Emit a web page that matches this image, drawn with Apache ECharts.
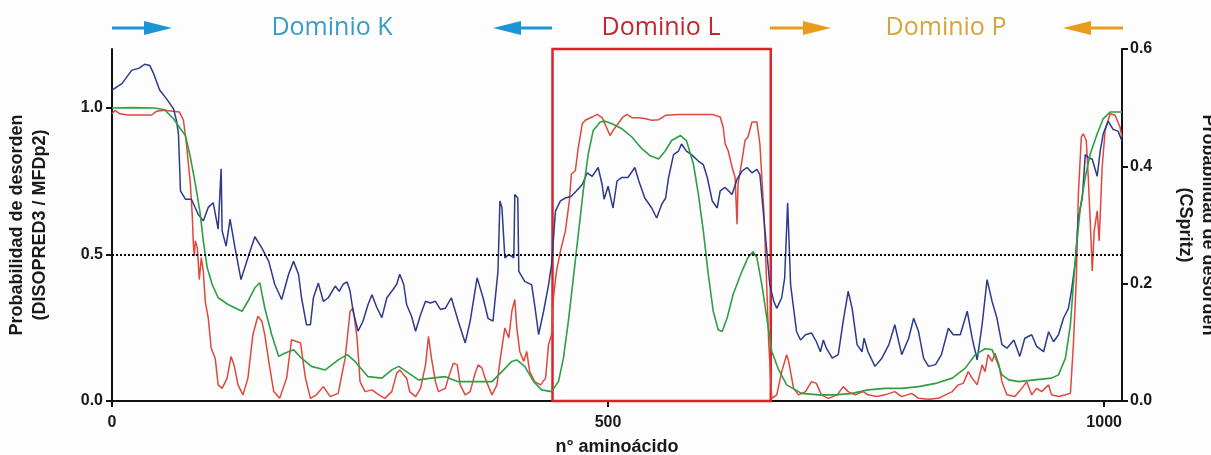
<!DOCTYPE html>
<html>
<head>
<meta charset="utf-8">
<script src="https://cdn.jsdelivr.net/npm/echarts@6/dist/echarts.min.js"></script>
<style>
  html, body { margin: 0; padding: 0; background: #fdfdfd; }
  #main { width: 1211px; height: 455px; }
</style>
</head>
<body>
<div id="main"></div>
<script>
// CSpritz (eje derecho)
var cspritzX = [0, 10, 20, 27, 33, 38, 42, 48, 55, 62, 65, 67, 69, 74, 80, 87, 92, 97, 102, 107, 110, 111, 115, 119, 124, 130, 137, 144, 151, 158, 164, 171, 178, 183, 188, 191, 196, 200, 203, 208, 213, 218, 225, 229, 233, 237, 240, 243, 248, 253, 258, 262, 267, 272, 277, 282, 287, 290, 294, 297, 302, 306, 311, 316, 321, 326, 331, 336, 342, 349, 356, 361, 368, 374, 379, 384, 389, 391, 393, 396, 400, 405, 406, 409, 410, 416, 423, 426, 430, 435, 440, 443, 447, 452, 457, 463, 468, 474, 479, 484, 490, 494, 496, 500, 505, 509, 514, 520, 527, 531, 537, 544, 549, 554, 558, 561, 566, 571, 574, 579, 584, 591, 596, 600, 605, 610, 613, 618, 625, 630, 635, 640, 645, 650, 653, 657, 660, 663, 667, 670, 675, 678, 681, 684, 687, 690, 694, 699, 705, 710, 714, 717, 720, 726, 732, 737, 742, 746, 751, 756, 758, 762, 769, 776, 783, 789, 796, 803, 808, 813, 818, 823, 830, 836, 843, 848, 855, 862, 867, 872, 877, 882, 887, 892, 897, 902, 909, 915, 920, 927, 932, 939, 944, 949, 954, 959, 964, 967, 971, 974, 978, 981, 984, 988, 993, 996, 999, 1004, 1009, 1014, 1018];
var cspritzY = [0.53, 0.541, 0.564, 0.567, 0.574, 0.572, 0.558, 0.53, 0.515, 0.498, 0.478, 0.455, 0.358, 0.344, 0.344, 0.318, 0.307, 0.33, 0.338, 0.293, 0.396, 0.29, 0.264, 0.31, 0.261, 0.207, 0.244, 0.28, 0.261, 0.238, 0.199, 0.173, 0.216, 0.238, 0.216, 0.176, 0.13, 0.13, 0.176, 0.201, 0.17, 0.176, 0.196, 0.187, 0.199, 0.203, 0.187, 0.153, 0.119, 0.136, 0.164, 0.181, 0.159, 0.142, 0.176, 0.187, 0.199, 0.216, 0.199, 0.164, 0.144, 0.119, 0.147, 0.17, 0.167, 0.17, 0.156, 0.158, 0.176, 0.136, 0.099, 0.136, 0.21, 0.176, 0.141, 0.136, 0.221, 0.341, 0.33, 0.244, 0.25, 0.244, 0.352, 0.346, 0.221, 0.204, 0.198, 0.164, 0.113, 0.153, 0.198, 0.232, 0.324, 0.341, 0.346, 0.349, 0.358, 0.369, 0.389, 0.383, 0.398, 0.369, 0.344, 0.366, 0.329, 0.375, 0.381, 0.381, 0.398, 0.375, 0.346, 0.329, 0.312, 0.335, 0.346, 0.381, 0.42, 0.426, 0.438, 0.426, 0.42, 0.409, 0.403, 0.381, 0.341, 0.329, 0.358, 0.364, 0.352, 0.378, 0.392, 0.398, 0.389, 0.395, 0.386, 0.312, 0.255, 0.198, 0.17, 0.158, 0.176, 0.21, 0.338, 0.198, 0.158, 0.118, 0.104, 0.113, 0.116, 0.101, 0.084, 0.104, 0.09, 0.073, 0.079, 0.136, 0.187, 0.158, 0.096, 0.084, 0.107, 0.084, 0.059, 0.073, 0.096, 0.13, 0.079, 0.107, 0.141, 0.118, 0.073, 0.059, 0.062, 0.079, 0.124, 0.113, 0.113, 0.153, 0.107, 0.07, 0.13, 0.207, 0.17, 0.141, 0.096, 0.09, 0.104, 0.076, 0.107, 0.113, 0.093, 0.084, 0.118, 0.101, 0.113, 0.141, 0.158, 0.187, 0.238, 0.312, 0.346, 0.42, 0.415, 0.412, 0.383, 0.426, 0.455, 0.477, 0.463, 0.46, 0.443];

// DISOPRED3 (eje izquierdo)
var disopredX = [0, 3, 8, 16, 27, 40, 45, 53, 68, 72, 75, 79, 81, 82, 83, 84, 86, 88, 90, 92, 94, 97, 100, 104, 107, 111, 116, 120, 123, 127, 132, 137, 142, 147, 151, 154, 158, 163, 169, 176, 181, 186, 190, 195, 200, 206, 213, 220, 228, 235, 240, 243, 247, 250, 255, 262, 269, 275, 282, 287, 290, 294, 297, 300, 306, 311, 316, 319, 322, 326, 329, 336, 339, 344, 348, 351, 356, 361, 366, 369, 373, 376, 383, 388, 391, 396, 400, 403, 406, 408, 411, 415, 418, 421, 426, 432, 437, 440, 443, 445, 448, 452, 457, 461, 463, 467, 470, 474, 477, 484, 489, 494, 499, 502, 505, 510, 515, 519, 524, 531, 537, 544, 551, 558, 571, 588, 605, 613, 616, 618, 621, 625, 628, 630, 631, 635, 638, 641, 645, 650, 653, 657, 659, 662, 665, 670, 675, 680, 682, 687, 692, 699, 705, 710, 715, 722, 731, 737, 742, 749, 757, 762, 771, 779, 789, 796, 806, 813, 823, 833, 840, 847, 853, 858, 863, 867, 872, 877, 880, 883, 887, 890, 894, 897, 902, 910, 917, 922, 927, 932, 937, 944, 947, 954, 961, 966, 969, 972, 974, 977, 979, 982, 984, 987, 988, 990, 993, 995, 998, 1001, 1006, 1011, 1016, 1018];
var disopredY = [0.979, 0.991, 0.979, 0.975, 0.975, 0.975, 0.988, 0.991, 0.985, 0.957, 0.877, 0.74, 0.626, 0.534, 0.494, 0.546, 0.523, 0.414, 0.489, 0.443, 0.34, 0.283, 0.18, 0.146, 0.055, 0.043, 0.078, 0.152, 0.123, 0.055, 0.021, 0.078, 0.226, 0.289, 0.272, 0.226, 0.135, 0.032, 0.009, 0.078, 0.209, 0.203, 0.198, 0.078, 0.009, 0.021, 0.049, 0.015, 0.026, 0.146, 0.306, 0.317, 0.215, 0.066, 0.032, 0.038, 0.021, 0.009, 0.032, 0.095, 0.106, 0.089, 0.078, 0.032, 0.015, 0.043, 0.123, 0.22, 0.146, 0.066, 0.032, 0.043, 0.078, 0.129, 0.123, 0.055, 0.021, 0.032, 0.095, 0.123, 0.112, 0.078, 0.021, 0.055, 0.135, 0.249, 0.215, 0.306, 0.346, 0.249, 0.169, 0.135, 0.169, 0.1, 0.066, 0.055, 0.078, 0.192, 0.226, 0.352, 0.443, 0.511, 0.58, 0.683, 0.774, 0.785, 0.865, 0.945, 0.957, 0.968, 0.977, 0.966, 0.928, 0.905, 0.922, 0.945, 0.968, 0.977, 0.966, 0.966, 0.963, 0.957, 0.959, 0.974, 0.977, 0.977, 0.977, 0.968, 0.934, 0.877, 0.854, 0.797, 0.763, 0.603, 0.74, 0.82, 0.888, 0.9, 0.951, 0.951, 0.877, 0.648, 0.477, 0.192, 0.009, 0.021, 0.1, 0.158, 0.135, 0.043, 0.021, 0.032, 0.066, 0.06, 0.021, 0.009, 0.021, 0.049, 0.032, 0.021, 0.032, 0.021, 0.015, 0.021, 0.032, 0.015, 0.026, 0.009, 0.006, 0.009, 0.021, 0.032, 0.055, 0.06, 0.1, 0.078, 0.055, 0.123, 0.1, 0.158, 0.135, 0.163, 0.123, 0.066, 0.021, 0.015, 0.043, 0.066, 0.021, 0.043, 0.032, 0.055, 0.021, 0.015, 0.021, 0.026, 0.192, 0.42, 0.705, 0.9, 0.911, 0.888, 0.763, 0.534, 0.443, 0.58, 0.648, 0.546, 0.797, 0.922, 0.979, 0.974, 0.934, 0.9];

// MFDp2 (eje izquierdo)
var mfdpX = [0, 20, 43, 53, 62, 69, 74, 79, 84, 89, 92, 96, 101, 107, 117, 131, 137, 144, 149, 154, 161, 168, 174, 183, 191, 201, 215, 228, 237, 245, 258, 272, 282, 289, 299, 309, 322, 336, 349, 363, 383, 393, 403, 408, 416, 425, 433, 443, 450, 455, 460, 465, 470, 475, 480, 485, 492, 497, 504, 514, 524, 534, 542, 551, 558, 564, 573, 579, 586, 591, 596, 601, 606, 611, 615, 620, 626, 635, 641, 646, 650, 655, 660, 665, 672, 680, 695, 712, 729, 746, 762, 779, 796, 813, 830, 847, 860, 870, 880, 887, 892, 897, 904, 914, 930, 947, 954, 961, 966, 969, 972, 976, 981, 986, 993, 999, 1006, 1013, 1018];
var mfdpY = [0.999, 1.0, 0.999, 0.993, 0.962, 0.928, 0.905, 0.831, 0.74, 0.637, 0.546, 0.454, 0.397, 0.352, 0.329, 0.306, 0.34, 0.386, 0.403, 0.317, 0.226, 0.152, 0.163, 0.175, 0.146, 0.118, 0.106, 0.14, 0.158, 0.135, 0.083, 0.078, 0.106, 0.118, 0.095, 0.072, 0.078, 0.083, 0.066, 0.066, 0.066, 0.1, 0.135, 0.14, 0.118, 0.066, 0.038, 0.032, 0.066, 0.146, 0.272, 0.42, 0.568, 0.717, 0.842, 0.922, 0.951, 0.954, 0.945, 0.928, 0.9, 0.86, 0.837, 0.825, 0.854, 0.888, 0.905, 0.888, 0.808, 0.705, 0.58, 0.432, 0.306, 0.243, 0.237, 0.283, 0.363, 0.443, 0.489, 0.509, 0.489, 0.397, 0.283, 0.169, 0.106, 0.055, 0.026, 0.021, 0.021, 0.026, 0.038, 0.043, 0.043, 0.049, 0.06, 0.078, 0.112, 0.158, 0.178, 0.175, 0.135, 0.089, 0.072, 0.066, 0.072, 0.078, 0.089, 0.146, 0.26, 0.397, 0.523, 0.66, 0.763, 0.842, 0.911, 0.962, 0.985, 0.985, 0.985];

var xTicks = [0, 500, 1000];
var leftTicks = [0, 0.5, 1.0];
var threshold = 0.5;
var dominioL = [444, 664];

function zip(xs, ys) {
  return xs.map(function (x, i) { return [x, ys[i]]; });
}

var axisFont = { fontFamily: 'Liberation Sans', fontWeight: 'bold', fontSize: 16, color: '#1a1a1a' };
var black = { color: '#111', width: 2 };

var chart = echarts.init(document.getElementById('main'));
chart.setOption({
  animation: false,
  backgroundColor: '#fdfdfd',
  grid: { left: 112, right: 89, top: 49, bottom: 54, outerBoundsMode: 'none' },
  xAxis: {
    type: 'value', min: 0, max: 1018,
    name: 'n° aminoácido', nameLocation: 'middle', nameGap: 37,
    nameTextStyle: { fontFamily: 'Liberation Sans', fontWeight: 'bold', fontSize: 18, color: '#1a1a1a' },
    axisLine: { show: true, onZero: false, lineStyle: black },
    axisTick: { show: true, length: 6, lineStyle: black, customValues: xTicks },
    axisLabel: Object.assign({ customValues: xTicks, margin: 14, formatter: function (v) { return String(v); } }, axisFont),
    splitLine: { show: false }
  },
  yAxis: [{
    type: 'value', min: 0, max: 1.2, position: 'left',
    axisLine: { show: true, onZero: false, lineStyle: black },
    axisTick: { show: true, length: 6, lineStyle: black, customValues: leftTicks },
    axisLabel: Object.assign({ customValues: leftTicks, margin: 9, formatter: function (v) { return v.toFixed(1); } }, axisFont),
    splitLine: { show: false }
  }, {
    type: 'value', min: 0, max: 0.6, interval: 0.2, position: 'right',
    axisLine: { show: true, onZero: false, lineStyle: black },
    axisTick: { show: true, length: 6, lineStyle: black },
    axisLabel: Object.assign({ margin: 8, formatter: function (v) { return v.toFixed(1); } }, axisFont),
    splitLine: { show: false }
  }],
  series: [{
    name: 'DISOPRED3', type: 'line', yAxisIndex: 0, symbol: 'none',
    data: zip(disopredX, disopredY),
    lineStyle: { color: '#e0473d', width: 1.5 },
    markLine: {
      silent: true, symbol: ['none', 'none'], label: { show: false },
      lineStyle: { color: '#000', type: 'dotted', width: 2 },
      data: [{ yAxis: threshold }]
    },
    markArea: {
      silent: true,
      itemStyle: { color: 'rgba(0,0,0,0)', borderColor: '#d9242a', borderWidth: 2.5 },
      data: [[{ xAxis: dominioL[0], yAxis: 0 }, { xAxis: dominioL[1], yAxis: 1.2 }]]
    }
  }, {
    name: 'CSpritz', type: 'line', yAxisIndex: 1, symbol: 'none',
    data: zip(cspritzX, cspritzY),
    lineStyle: { color: '#2d3a8c', width: 1.5 }
  }, {
    name: 'MFDp2', type: 'line', yAxisIndex: 0, symbol: 'none',
    data: zip(mfdpX, mfdpY),
    lineStyle: { color: '#2f9e44', width: 1.6 }
  }],
  graphic: [
    // títulos de los ejes Y
    { type: 'text', x: 28.5, y: 225, rotation: Math.PI / 2,
      style: { text: 'Probabilidad de desorden\n(DISOPRED3 / MFDp2)', font: 'bold 18px "Liberation Sans"', fill: '#1a1a1a',
        align: 'center', verticalAlign: 'middle', textAlign: 'center', textVerticalAlign: 'middle', lineHeight: 23 } },
    { type: 'text', x: 1196.5, y: 225, rotation: -Math.PI / 2,
      style: { text: 'Probabilidad de desorden\n(CSpritz)', font: 'bold 18px "Liberation Sans"', fill: '#1a1a1a',
        align: 'center', verticalAlign: 'middle', textAlign: 'center', textVerticalAlign: 'middle', lineHeight: 23 } },
    // dominios
    { type: 'text', x: 332, y: 28, style: { text: 'Dominio K', font: '25px "Open Sans"', fill: '#3a9bc8',
      align: 'center', verticalAlign: 'middle', textAlign: 'center', textVerticalAlign: 'middle' } },
    { type: 'text', x: 661, y: 28, style: { text: 'Dominio L', font: '25px "Open Sans"', fill: '#c4262d',
      align: 'center', verticalAlign: 'middle', textAlign: 'center', textVerticalAlign: 'middle' } },
    { type: 'text', x: 946, y: 28, style: { text: 'Dominio P', font: '25px "Open Sans"', fill: '#d6a43a',
      align: 'center', verticalAlign: 'middle', textAlign: 'center', textVerticalAlign: 'middle' } },
    // flechas
    { type: 'line', shape: { x1: 112, y1: 28, x2: 150, y2: 28 }, style: { stroke: '#1b95d6', lineWidth: 3 } },
    { type: 'polygon', shape: { points: [[144, 21], [172, 28], [144, 35]] }, style: { fill: '#1b95d6' } },
    { type: 'line', shape: { x1: 515, y1: 28, x2: 552, y2: 28 }, style: { stroke: '#1b95d6', lineWidth: 3 } },
    { type: 'polygon', shape: { points: [[493, 28], [521, 21], [521, 35]] }, style: { fill: '#1b95d6' } },
    { type: 'line', shape: { x1: 770, y1: 28, x2: 808, y2: 28 }, style: { stroke: '#e99c1c', lineWidth: 3 } },
    { type: 'polygon', shape: { points: [[803, 21], [831, 28], [803, 35]] }, style: { fill: '#e99c1c' } },
    { type: 'line', shape: { x1: 1085, y1: 28, x2: 1123, y2: 28 }, style: { stroke: '#e99c1c', lineWidth: 3 } },
    { type: 'polygon', shape: { points: [[1063, 28], [1091, 21], [1091, 35]] }, style: { fill: '#e99c1c' } }
  ]
});
</script>
</body>
</html>
